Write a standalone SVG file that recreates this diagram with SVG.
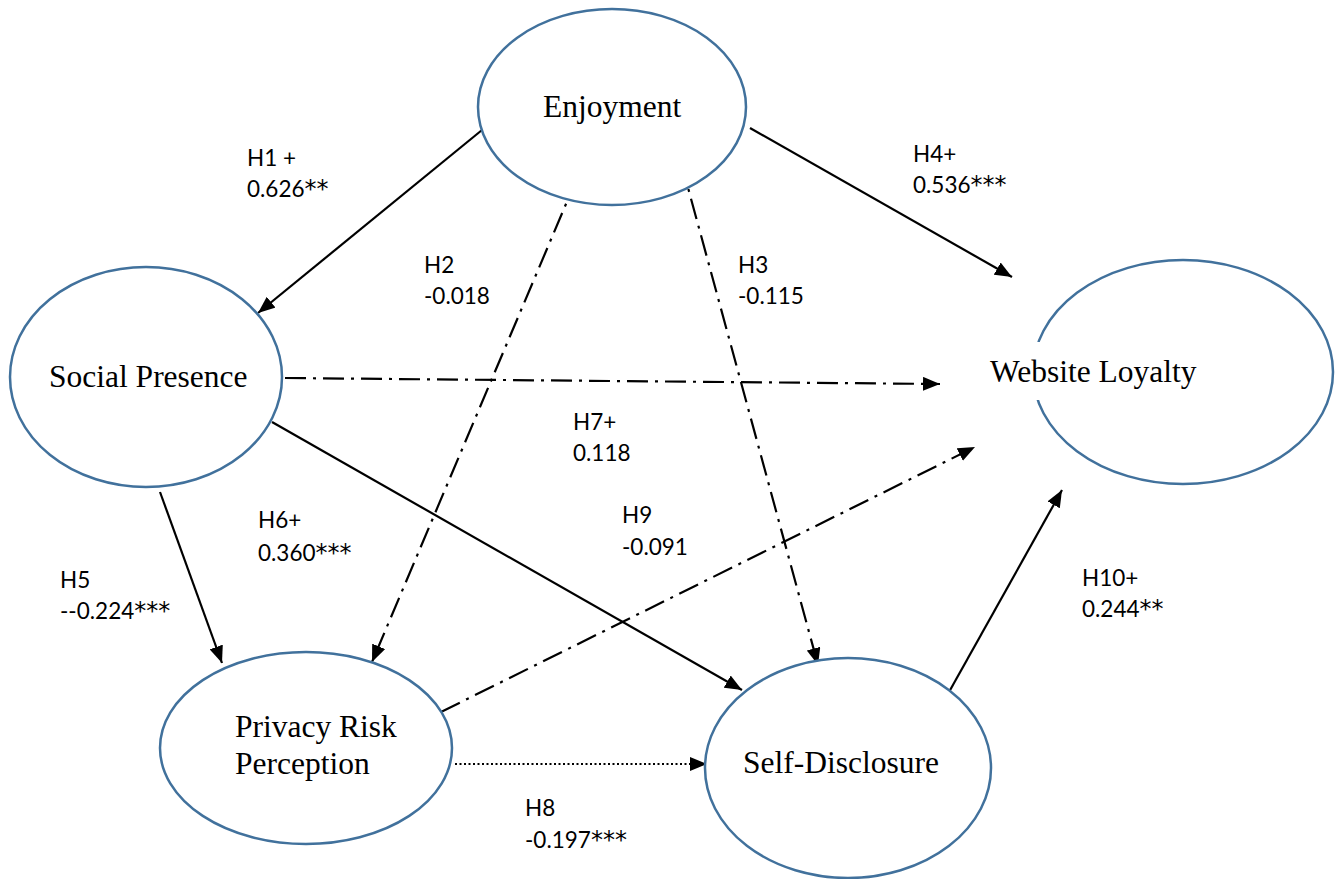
<svg xmlns="http://www.w3.org/2000/svg" width="1336" height="879" viewBox="0 0 1336 879">
  <style>
    .node { fill: #ffffff; stroke: #41719c; stroke-width: 2.5; }
    .ntext { font-family: "Liberation Serif", "Times New Roman", serif; font-size: 31.5px; fill: #000000; }
    .lbl { font-family: Lato, "Open Sans", "Liberation Sans", sans-serif; font-size: 22.5px; fill: #000000; }
    .ast { font-family: "DejaVu Sans", sans-serif; font-size: 24px; }
    .edge { fill: none; stroke: #000000; stroke-width: 2.2; }
    .dashdot { stroke-dasharray: 21 7 3 7; }
    .dotted { stroke-dasharray: 2 2.5; }
  </style>
  <defs>
    <marker id="arrow" markerUnits="userSpaceOnUse" markerWidth="18" markerHeight="14" refX="17" refY="7" orient="auto">
      <path d="M0,0 L17,7 L0,14 z" fill="#000000"/>
    </marker>
  </defs>

  <rect x="0" y="0" width="1336" height="879" fill="#ffffff"/>

  <!-- connectors -->
  <g id="connectors">
    <line class="edge" x1="482" y1="130" x2="258" y2="313" marker-end="url(#arrow)"/>
    <line class="edge" x1="750" y1="128" x2="1012" y2="277" marker-end="url(#arrow)"/>
    <line class="edge dashdot" x1="577" y1="178" x2="372" y2="662" marker-end="url(#arrow)"/>
    <line class="edge dashdot" x1="681" y1="162" x2="818" y2="665" marker-end="url(#arrow)"/>
    <line class="edge dashdot" x1="285" y1="378" x2="940" y2="384" marker-end="url(#arrow)"/>
    <line class="edge" x1="272" y1="422" x2="742" y2="690" marker-end="url(#arrow)"/>
    <line class="edge" x1="160" y1="492" x2="222" y2="663" marker-end="url(#arrow)"/>
    <line class="edge dashdot" x1="441" y1="712" x2="975" y2="447" marker-end="url(#arrow)"/>
    <line class="edge dotted" x1="455" y1="764" x2="707" y2="764" marker-end="url(#arrow)"/>
    <line class="edge" x1="949" y1="692" x2="1062" y2="490" marker-end="url(#arrow)"/>
  </g>

  <!-- nodes -->
  <g id="enjoyment">
    <ellipse class="node" cx="612" cy="107" rx="134" ry="98"/>
    <text class="ntext" x="543" y="117">Enjoyment</text>
  </g>
  <g id="social-presence">
    <ellipse class="node" cx="146" cy="377" rx="136" ry="110"/>
    <text class="ntext" x="49" y="387">Social Presence</text>
  </g>
  <g id="privacy-risk">
    <ellipse class="node" cx="306" cy="748" rx="146" ry="96"/>
    <text class="ntext" x="235" y="737">Privacy Risk</text>
    <text class="ntext" x="235" y="774">Perception</text>
  </g>
  <g id="self-disclosure">
    <ellipse class="node" cx="848" cy="768" rx="143" ry="110"/>
    <text class="ntext" x="743" y="773">Self-Disclosure</text>
  </g>
  <g id="website-loyalty">
    <ellipse class="node" cx="1183" cy="372" rx="150" ry="112"/>
    <rect x="985" y="342" width="222" height="58" fill="#ffffff"/>
    <text class="ntext" x="990" y="382">Website Loyalty</text>
  </g>

  <!-- path labels -->
  <g id="labels">
    <text class="lbl" x="247" y="166">H1 +</text>
    <text class="lbl" x="247" y="197">0.626<tspan class="ast">**</tspan></text>
    <text class="lbl" x="913" y="162">H4+</text>
    <text class="lbl" x="913" y="193">0.536<tspan class="ast">***</tspan></text>
    <text class="lbl" x="424" y="273">H2</text>
    <text class="lbl" x="424" y="304">-0.018</text>
    <text class="lbl" x="738" y="273">H3</text>
    <text class="lbl" x="738" y="304">-0.115</text>
    <text class="lbl" x="573" y="430">H7+</text>
    <text class="lbl" x="573" y="461">0.118</text>
    <text class="lbl" x="622" y="523">H9</text>
    <text class="lbl" x="622" y="555">-0.091</text>
    <text class="lbl" x="258" y="528">H6+</text>
    <text class="lbl" x="258" y="561">0.360<tspan class="ast">***</tspan></text>
    <text class="lbl" x="60" y="588">H5</text>
    <text class="lbl" x="60" y="619">--0.224<tspan class="ast">***</tspan></text>
    <text class="lbl" x="1082" y="586">H10+</text>
    <text class="lbl" x="1082" y="617">0.244<tspan class="ast">**</tspan></text>
    <text class="lbl" x="525" y="816">H8</text>
    <text class="lbl" x="525" y="848">-0.197<tspan class="ast">***</tspan></text>
  </g>
</svg>
